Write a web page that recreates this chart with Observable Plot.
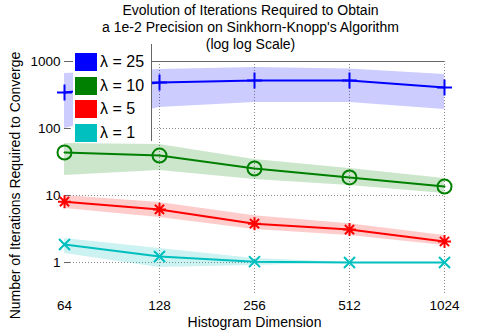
<!DOCTYPE html>
<html>
<head>
<meta charset="utf-8">
<script src="https://cdn.jsdelivr.net/npm/d3@7"></script>
<script src="https://cdn.jsdelivr.net/npm/@observablehq/plot@0.6"></script>
<style>
  html, body { margin: 0; padding: 0; background: #fff; }
  #wrap { position: relative; width: 491px; height: 334px; font-family: "Liberation Sans", Arial, sans-serif; }
  #legend { position: absolute; left: 73px; top: 44px; width: 78px; height: 97px; background: #fff; border-right: 1px solid #666; }
  .item { position: absolute; left: 2px; height: 19px; display: flex; align-items: center; }
  .sw { width: 22px; height: 18px; margin-right: 3px; }
  .lab { font-size: 16px; color: #000; white-space: nowrap; }
</style>
</head>
<body>
<div id="wrap"></div>
<script>
const titleLines = ["Evolution of Iterations Required to Obtain", "a 1e-2 Precision on Sinkhorn-Knopp's Algorithm", "(log log Scale)"];
const xLabel = "Histogram Dimension";
const yLabel = "Number of Iterations Required to Converge";
const dims = [64, 128, 256, 512, 1024];
const yTicks = [1, 10, 100, 1000];
const lambdas = [25, 10, 5, 1];

const mean25 = [344, 486, 520, 520, 409];
const lo25   = [100, 206, 244, 244, 192];
const hi25   = [662, 761, 813, 776, 640];
const mean10 = [43.8, 39.5, 25.3, 18.6, 13.6];
const lo10   = [19.9, 23.6, 17.3, 14.1, 10.7];
const hi10   = [59.7, 57.6, 34.4, 25.3, 17.9];
const mean5  = [8.1, 6.2, 3.8, 3.1, 2.06];
const lo5    = [6.4, 4.7, 3.1, 2.53, 1.8];
const hi5    = [10, 7.9, 5.0, 3.8, 2.53];
const mean1  = [1.86, 1.23, 1.03, 1, 1];
const lo1    = [1.36, 0.84, 0.9, 1, 1];
const hi1    = [2.28, 1.62, 1.15, 1, 1];

const colors = ["#0000ff", "#008000", "#ff0000", "#00bfbf"];

const means = [mean25, mean10, mean5, mean1];
const los = [lo25, lo10, lo5, lo1];
const his = [hi25, hi10, hi5, hi1];
const rows = lambdas.flatMap((lam, i) => dims.map((d, j) => ({dim: d, lambda: lam, mean: means[i][j], lo: los[i][j], hi: his[i][j]})));

const plusSym = {draw(c) { c.moveTo(-7.5, 0); c.lineTo(7.5, 0); c.moveTo(0, -8); c.lineTo(0, 8); }};
const circleSym = {draw(c) { c.moveTo(7, 0); c.arc(0, 0, 7, 0, 2 * Math.PI); c.closePath(); }};
const asterSym = {draw(c) { const r = 6.5, q = r * 0.7071; c.moveTo(-r, 0); c.lineTo(r, 0); c.moveTo(0, -r); c.lineTo(0, r); c.moveTo(-q, -q); c.lineTo(q, q); c.moveTo(-q, q); c.lineTo(q, -q); }};
const timesSym = {draw(c) { const q = 5.5; c.moveTo(-q, -q); c.lineTo(q, q); c.moveTo(-q, q); c.lineTo(q, -q); }};

const chart = Plot.plot({
  width: 491,
  height: 334,
  marginLeft: 64,
  marginRight: 47,
  marginTop: 61,
  marginBottom: 39,
  style: {fontFamily: "'Liberation Sans', Arial, sans-serif", fontSize: "13px", color: "#000", background: "#fff"},
  x: {type: "log", base: 2, domain: [64, 1024], axis: null, label: null},
  y: {type: "log", domain: [0.322, 1000], axis: null, label: null},
  color: {type: "ordinal", domain: lambdas, range: colors},
  symbol: {domain: lambdas, range: [plusSym, circleSym, asterSym, timesSym]},
  marks: [
    Plot.gridY([1, 10, 100], {stroke: "#888", strokeOpacity: 1, strokeDasharray: "1,2"}),
    Plot.gridX(dims.slice(1), {stroke: "#888", strokeOpacity: 1, strokeDasharray: "1,2"}),
    Plot.ruleY([yTicks[yTicks.length - 1]], {stroke: "#666"}),
    Plot.axisY({ticks: yTicks, tickSize: -6, tickFormat: () => "", stroke: "#666", label: null}),
    Plot.axisY({ticks: yTicks, tickSize: 0, tickPadding: 4, tickFormat: d => String(d), fontSize: 13.5, label: null}),
    Plot.axisX({ticks: dims, tickSize: 0, tickPadding: 5, tickFormat: d => String(d), fontSize: 13.5, label: null}),
    Plot.areaY(rows, {x: "dim", y1: "lo", y2: "hi", z: "lambda", fill: "lambda", fillOpacity: 0.2, curve: "linear"}),
    Plot.line(rows, {x: "dim", y: "mean", z: "lambda", stroke: "lambda", strokeWidth: 2}),
    Plot.dot(rows, {x: "dim", y: "mean", symbol: "lambda", stroke: "lambda", fill: "none", strokeWidth: 2, r: 5}),
    Plot.text([titleLines.join("\n")], {text: d => d, frameAnchor: "top", dy: -58, dx: -4, lineAnchor: "top", lineHeight: 1.2, fontSize: 14}),
    Plot.text([xLabel], {text: d => d, frameAnchor: "bottom", dy: 31, fontSize: 14}),
    Plot.text([yLabel], {text: d => d, frameAnchor: "left", textAnchor: "middle", lineAnchor: "middle", rotate: -90, dx: -49, dy: 7, fontSize: 14})
  ]
});

const wrap = document.getElementById("wrap");
wrap.appendChild(chart);

const legend = document.createElement("div");
legend.id = "legend";
const rowTops = [8, 32, 55, 79];
lambdas.forEach((lam, i) => {
  const it = document.createElement("div");
  it.className = "item";
  it.style.top = rowTops[i] + "px";
  const sw = document.createElement("div");
  sw.className = "sw";
  sw.style.background = colors[i];
  const lab = document.createElement("span");
  lab.className = "lab";
  lab.textContent = "\u03bb = " + lam;
  it.appendChild(sw);
  it.appendChild(lab);
  legend.appendChild(it);
});
wrap.appendChild(legend);
</script>
</body>
</html>
